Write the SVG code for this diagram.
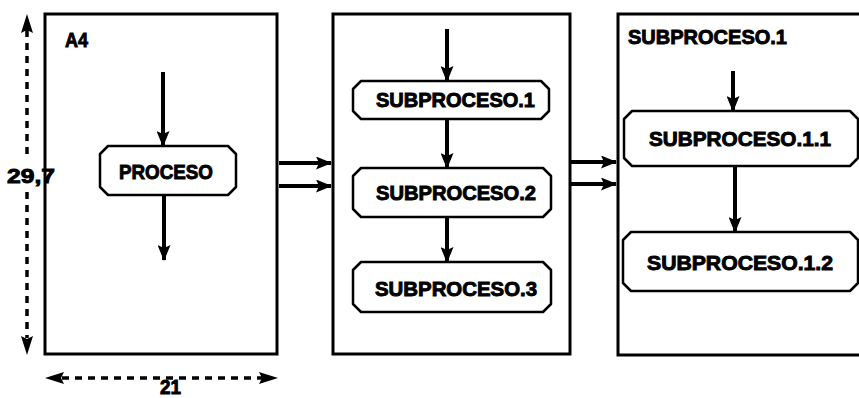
<svg xmlns="http://www.w3.org/2000/svg" width="859" height="398" viewBox="0 0 859 398">
  <defs>
    <marker id="ah" viewBox="0 0 16 13" refX="15" refY="6.5" markerWidth="16" markerHeight="13" markerUnits="userSpaceOnUse" orient="auto-start-reverse">
      <path d="M0,0 L16,6.5 L0,13 L3,6.5 Z" fill="#000"/>
    </marker>
  </defs>
  <style>
    .frame { fill: #fff; stroke: #000; stroke-width: 3; }
    .node { fill: #fff; stroke: #000; stroke-width: 2.5; stroke-linejoin: round; }
    .lbl { font-family: "Liberation Sans", Arial, sans-serif; font-weight: bold; font-size: 20px; fill: #000; stroke: #000; stroke-width: 0.9; }
    .flow { stroke: #000; stroke-width: 4; fill: none; marker-end: url(#ah); }
    .dim { stroke: #000; stroke-width: 3.5; fill: none; stroke-dasharray: 7 6; }
  </style>
  <rect width="859" height="398" fill="#fff"/>

  <!-- page frames -->
  <g id="page-a4">
    <rect class="frame" x="45" y="14" width="232" height="340"/>
    <text class="lbl" x="65" y="47" textLength="23" lengthAdjust="spacingAndGlyphs">A4</text>
  </g>
  <g id="page-proceso">
    <rect class="frame" x="333" y="14" width="237" height="340"/>
  </g>
  <g id="page-subproceso1">
    <rect class="frame" x="618" y="14" width="250" height="341"/>
    <text class="lbl" x="628" y="44" textLength="159" lengthAdjust="spacingAndGlyphs">SUBPROCESO.1</text>
  </g>

  <!-- process boxes -->
  <g id="proceso">
    <path class="node" d="M108,146 H228 L236,154 V187 L228,195 H108 L100,187 V154 Z"/>
    <text class="lbl" x="119" y="179" textLength="94" lengthAdjust="spacingAndGlyphs">PROCESO</text>
  </g>
  <g id="sub1">
    <path class="node" d="M361,81 H541 L549,89 V111 L541,119 H361 L353,111 V89 Z"/>
    <text class="lbl" x="376" y="107" textLength="159" lengthAdjust="spacingAndGlyphs">SUBPROCESO.1</text>
  </g>
  <g id="sub2">
    <path class="node" d="M361,168 H543 L551,176 V209 L543,217 H361 L353,209 V176 Z"/>
    <text class="lbl" x="376" y="200" textLength="160" lengthAdjust="spacingAndGlyphs">SUBPROCESO.2</text>
  </g>
  <g id="sub3">
    <path class="node" d="M361,262 H543 L551,270 V304 L543,312 H361 L353,304 V270 Z"/>
    <text class="lbl" x="375" y="296" textLength="162" lengthAdjust="spacingAndGlyphs">SUBPROCESO.3</text>
  </g>
  <g id="sub11">
    <path class="node" d="M632,111 H850 L858,119 V158 L850,166 H632 L624,158 V119 Z"/>
    <text class="lbl" x="649" y="146" textLength="182" lengthAdjust="spacingAndGlyphs">SUBPROCESO.1.1</text>
  </g>
  <g id="sub12">
    <path class="node" d="M631,232 H850 L858,240 V283 L850,291 H631 L623,283 V240 Z"/>
    <text class="lbl" x="647" y="270" textLength="186" lengthAdjust="spacingAndGlyphs">SUBPROCESO.1.2</text>
  </g>

  <!-- dimension marks -->
  <g id="dim-height">
    <line class="dim" x1="27" y1="30" x2="27" y2="160"/>
    <line class="dim" x1="27" y1="192" x2="27" y2="338"/>
    <path d="M27,14 L33,33 L27,30 L21,33 Z" fill="#000"/>
    <path d="M27,355 L33,336 L27,339 L21,336 Z" fill="#000"/>
    <text class="lbl" x="7" y="183" textLength="48" lengthAdjust="spacingAndGlyphs">29,7</text>
  </g>
  <g id="dim-width">
    <line class="dim" x1="62" y1="378" x2="262" y2="378"/>
    <path d="M45,378 L64,372 L61,378 L64,384 Z" fill="#000"/>
    <path d="M278,378 L259,372 L262,378 L259,384 Z" fill="#000"/>
    <text class="lbl" x="160" y="394" font-size="13" textLength="21" lengthAdjust="spacingAndGlyphs">21</text>
  </g>

  <!-- connectors -->
  <g id="connectors">
    <line class="flow" x1="163" y1="72" x2="163" y2="146"/>
    <line class="flow" x1="164" y1="195" x2="164" y2="260"/>
    <line class="flow" x1="279" y1="163" x2="331" y2="163"/>
    <line class="flow" x1="279" y1="186" x2="331" y2="186"/>
    <line class="flow" x1="447" y1="29" x2="447" y2="81"/>
    <line class="flow" x1="447" y1="119" x2="447" y2="168"/>
    <line class="flow" x1="447" y1="217" x2="447" y2="262"/>
    <line class="flow" x1="571" y1="162" x2="616" y2="162"/>
    <line class="flow" x1="571" y1="184" x2="616" y2="184"/>
    <line class="flow" x1="733" y1="71" x2="733" y2="111"/>
    <line class="flow" x1="735" y1="166" x2="735" y2="232"/>
  </g>
</svg>
